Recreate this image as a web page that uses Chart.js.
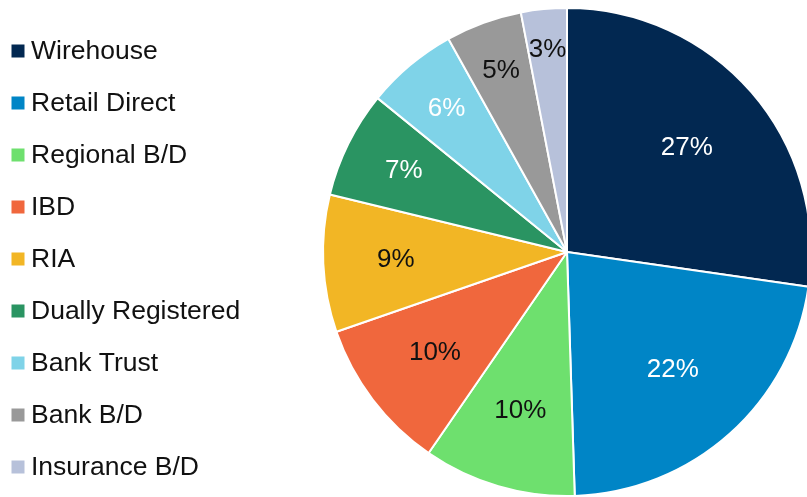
<!DOCTYPE html>
<html>
<head>
<meta charset="utf-8">
<title>Channel share</title>
<script src="https://cdn.jsdelivr.net/npm/chart.js@4/dist/chart.umd.min.js"></script>
<style>
  html, body { margin: 0; padding: 0; background: #ffffff; overflow: hidden; }
  #wrap { width: 830px; height: 497px; }
</style>
</head>
<body>
<div id="wrap"><canvas id="pie" width="830" height="497"></canvas></div>
<script>
// Distribution channels and their share (%)
const channels = ['Wirehouse', 'Retail Direct', 'Regional B/D', 'IBD', 'RIA',
                  'Dually Registered', 'Bank Trust', 'Bank B/D', 'Insurance B/D'];
const shares = [27, 22, 10, 10, 9, 7, 6, 5, 3];
const sliceColors = ['#022851', '#0085C6', '#6EE06E', '#F0673D', '#F2B625',
                     '#2A9462', '#7FD3E8', '#999999', '#B7C1DA'];
const labelColors = ['#ffffff', '#ffffff', '#111111', '#111111', '#111111',
                     '#ffffff', '#ffffff', '#111111', '#111111'];

const FONT = '"Liberation Sans", Arial, Helvetica, sans-serif';

// Legend drawn down the left side
const sideLegend = {
  id: 'sideLegend',
  afterDraw(chart) {
    const ctx = chart.ctx;
    ctx.save();
    ctx.font = '26.5px ' + FONT;
    ctx.textBaseline = 'middle';
    ctx.textAlign = 'left';
    chart.data.labels.forEach((name, i) => {
      const y = 51 + i * 52;
      ctx.fillStyle = chart.data.datasets[0].backgroundColor[i];
      ctx.fillRect(11.5, y - 6.5, 13, 13);
      ctx.fillStyle = '#111111';
      ctx.fillText(name, 31, y + 1);
    });
    ctx.restore();
  }
};

// Percentage labels inside each slice; narrow slices push their label
// further toward the rim so it fits between the edges
const sliceLabels = {
  id: 'sliceLabels',
  afterDatasetsDraw(chart) {
    const ctx = chart.ctx;
    const meta = chart.getDatasetMeta(0);
    const values = chart.data.datasets[0].data;
    ctx.save();
    ctx.font = '26px ' + FONT;
    ctx.textBaseline = 'middle';
    ctx.textAlign = 'center';
    meta.data.forEach((arc, i) => {
      const mid = (arc.startAngle + arc.endAngle) / 2;
      const f = Math.min(0.85, Math.max(0.65, 0.9 - 0.022 * values[i]));
      const d = arc.outerRadius * f;
      ctx.fillStyle = labelColors[i];
      ctx.fillText(values[i] + '%', arc.x + Math.cos(mid) * d, arc.y + Math.sin(mid) * d);
    });
    ctx.restore();
  }
};

new Chart(document.getElementById('pie'), {
  type: 'pie',
  data: {
    labels: channels,
    datasets: [{
      data: shares,
      backgroundColor: sliceColors,
      borderColor: '#ffffff',
      borderWidth: 2
    }]
  },
  options: {
    responsive: false,
    animation: false,
    devicePixelRatio: 1,
    radius: 244,
    layout: { padding: { left: 323, right: 19, top: 8, bottom: 1 } },
    plugins: {
      legend: { display: false },
      tooltip: { enabled: false }
    }
  },
  plugins: [sideLegend, sliceLabels]
});
</script>
</body>
</html>
